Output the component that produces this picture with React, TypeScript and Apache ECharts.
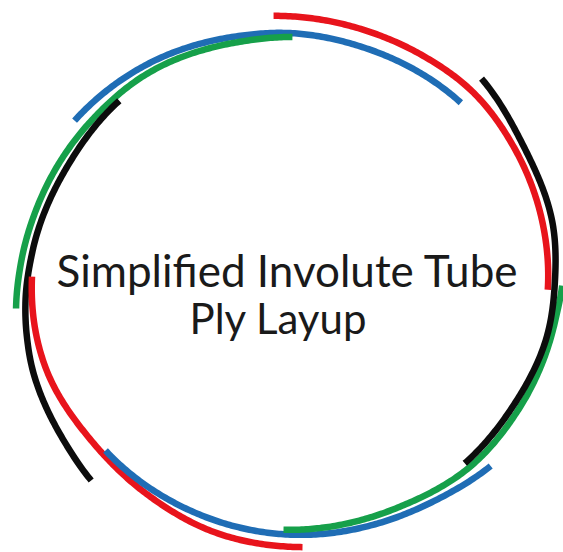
import React, { useEffect, useRef } from "react";
import * as echarts from "echarts";

// Eight plies, each an arc whose radius grows as it winds counter-clockwise.
const plyNames = ["Red ply A", "Blue ply A", "Green ply A", "Black ply A", "Red ply B", "Blue ply B", "Green ply B", "Black ply B"];
const plyColors = ["#e8141c", "#1f6db5", "#16a04a", "#0c0c0c", "#e8141c", "#1f6db5", "#16a04a", "#0c0c0c"];

// Control angles (degrees, counter-clockwise from east)
const redAAngles = [-2, 14, 31, 47, 60, 74, 93];
const blueAAngles = [47, 72, 90, 102, 121, 142];
const greenAAngles = [89, 102, 122, 140, 161, 176, 186];
const blackAAngles = [132, 152, 173, 184, 193, 200, 216, 226.5];
const redBAngles = [179, 201, 220, 237, 255, 273];
const blueBAngles = [224, 245, 272, 290, 303, 316.5];
const greenBAngles = [269, 295, 313, 330, 351, 359];
const blackBAngles = [313, 330, 347, 360, 373, 391, 407.4];

// Radii at those angles, relative to the nominal tube radius
const redARadii = [1.0, 1.007, 1.02, 1.038, 1.04, 1.046, 1.062];
const blueARadii = [0.975, 0.978, 0.992, 0.999, 1.021, 1.042];
const greenARadii = [0.976, 0.975, 0.99, 0.992, 1.007, 1.03, 1.052];
const blackARadii = [0.97, 0.965, 0.99, 1.012, 1.03, 1.045, 1.072, 1.1];
const redBRadii = [0.985, 0.995, 0.99, 1.01, 1.045, 1.066];
const blueBRadii = [0.976, 0.99, 1.016, 1.03, 1.045, 1.075];
const greenBRadii = [0.995, 1.0, 1.021, 1.025, 1.04, 1.055];
const blackBRadii = [0.997, 1.0, 1.02, 1.027, 1.044, 1.055, 1.1];

const titleLine1 = "Simplified Involute Tube";
const titleLine2 = "Ply Layup";

const plyAngles = [redAAngles, blueAAngles, greenAAngles, blackAAngles, redBAngles, blueBAngles, greenBAngles, blackBAngles];
const plyRadii = [redARadii, blueARadii, greenARadii, blackARadii, redBRadii, blueBRadii, greenBRadii, blackBRadii];

function radiusAt(angs: number[], rads: number[], a: number): number {
  const n = angs.length;
  let i = 0;
  while (i < n - 2 && a > angs[i + 1]) i++;
  const slope = (k: number) => {
    if (k === 0) return (rads[1] - rads[0]) / (angs[1] - angs[0]);
    if (k === n - 1) return (rads[n - 1] - rads[n - 2]) / (angs[n - 1] - angs[n - 2]);
    return (rads[k + 1] - rads[k - 1]) / (angs[k + 1] - angs[k - 1]);
  };
  const h = angs[i + 1] - angs[i];
  const t = Math.min(1, Math.max(0, (a - angs[i]) / h));
  const t2 = t * t, t3 = t2 * t;
  return (2 * t3 - 3 * t2 + 1) * rads[i] + (t3 - 2 * t2 + t) * h * slope(i) +
    (-2 * t3 + 3 * t2) * rads[i + 1] + (t3 - t2) * h * slope(i + 1);
}

export default function App() {
  const ref = useRef<HTMLDivElement>(null);
  useEffect(() => {
    if (!ref.current) return;
    const chart = echarts.init(ref.current, undefined, { renderer: "svg" });
    chart.setOption({
      animation: false,
      backgroundColor: "#ffffff",
      grid: { left: 0, right: 0, top: 0, bottom: 0 },
      xAxis: { type: "value", min: -1.108, max: 1.058, show: false },
      yAxis: { type: "value", min: -1.084, max: 1.124, show: false },
      series: [
        {
          type: "custom",
          coordinateSystem: "cartesian2d",
          clip: false,
          data: plyNames.map((name) => ({ name, value: [0, 0] })),
          renderItem: (params: any, api: any) => {
            const i = params.dataIndex;
            const angs = plyAngles[i];
            const rads = plyRadii[i];
            const a0 = angs[0];
            const a1 = angs[angs.length - 1];
            const steps = Math.ceil((a1 - a0) / 0.5);
            const pts: number[][] = [];
            for (let k = 0; k <= steps; k++) {
              const a = a0 + ((a1 - a0) * k) / steps;
              const r = radiusAt(angs, rads, a);
              const t = (a * Math.PI) / 180;
              pts.push(api.coord([r * Math.cos(t), r * Math.sin(t)]));
            }
            return {
              type: "polyline",
              shape: { points: pts },
              style: { stroke: plyColors[i], lineWidth: 6.5, fill: null, lineCap: "butt", lineJoin: "round" },
            };
          },
        },
      ],
      graphic: [
        {
          type: "text",
          x: 287,
          y: 270,
          style: {
            text: titleLine1,
            fontFamily: "Lato",
            fontSize: 44,
            lineHeight: 40,
            fill: "#1a1a1a",
            align: "center",
            verticalAlign: "middle",
          },
        },
        {
          type: "text",
          x: 278,
          y: 318,
          style: {
            text: titleLine2,
            fontFamily: "Lato",
            fontSize: 42,
            lineHeight: 40,
            fill: "#1a1a1a",
            align: "center",
            verticalAlign: "middle",
          },
        },
      ],
    });
    return () => chart.dispose();
  }, []);
  return (
    <div
      ref={ref}
      style={{ position: "fixed", left: 0, top: 0, width: 563, height: 552, background: "#fff" }}
    />
  );
}
